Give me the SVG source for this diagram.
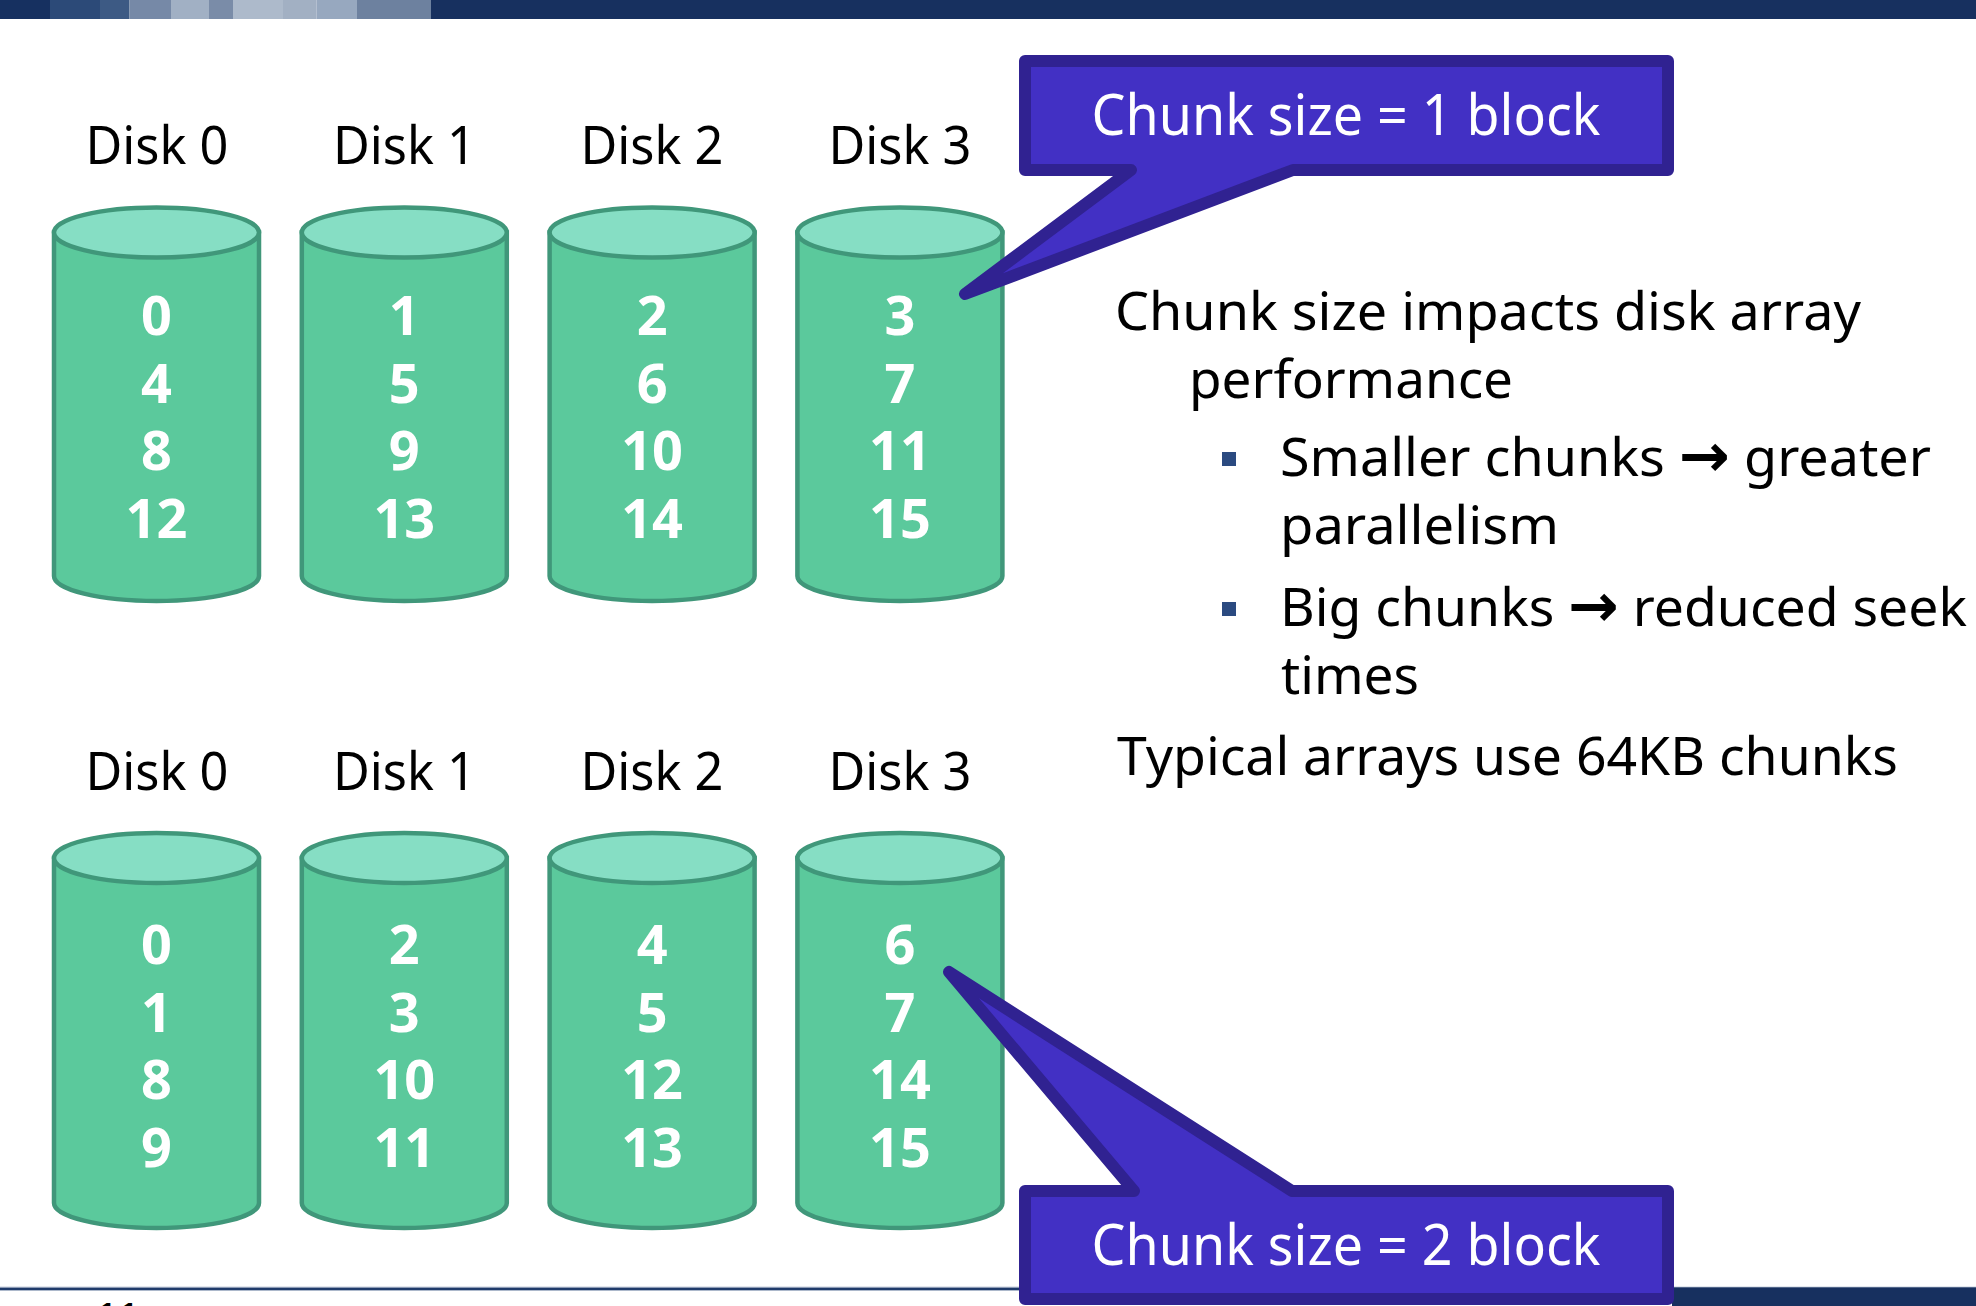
<svg xmlns="http://www.w3.org/2000/svg" width="1976" height="1306" viewBox="0 0 1976 1306">
<style>
.body{fill:#5bc99c;stroke:#40977a;stroke-width:4.5}
.cap{fill:#86dec4;stroke:#40977a;stroke-width:4.5}
.num{font-family:"Open Sans","Noto Sans","Liberation Sans",sans-serif;font-weight:bold;font-size:54px;fill:#ffffff;text-anchor:middle}
.lbl{font-family:"Noto Sans","Open Sans","DejaVu Sans",sans-serif;font-size:53px;fill:#000000;text-anchor:middle}
.txt{font-family:"Noto Sans","Open Sans","DejaVu Sans",sans-serif;font-size:53px;fill:#000000}
.arr{font-family:"DejaVu Sans",sans-serif;font-size:60px;font-weight:bold}
.co{fill:#4230c4;stroke:#302291;stroke-width:12;stroke-linejoin:round}
.cot{font-family:"Noto Sans","Open Sans","DejaVu Sans",sans-serif;font-size:56px;fill:#ffffff;text-anchor:middle}
.bul{fill:#2b4a80}
</style>
<rect x="0" y="0" width="1976" height="1306" fill="#ffffff"/>
<g id="header-bar">
<rect x="0" y="0" width="50" height="19" fill="#163060"/>
<rect x="50" y="0" width="50" height="19" fill="#2c4a78"/>
<rect x="100" y="0" width="29.5" height="19" fill="#3d5a84"/>
<rect x="129.5" y="0" width="41.5" height="19" fill="#7689a7"/>
<rect x="171" y="0" width="38" height="19" fill="#a1b0c4"/>
<rect x="209" y="0" width="24" height="19" fill="#7a8ca8"/>
<rect x="233" y="0" width="50" height="19" fill="#adbacb"/>
<rect x="283" y="0" width="33.5" height="19" fill="#a2b0c3"/>
<rect x="316.5" y="0" width="40.5" height="19" fill="#97a8bf"/>
<rect x="357" y="0" width="74" height="19" fill="#6d819f"/>
<rect x="431" y="0" width="1545" height="19" fill="#17305f"/>
</g>
<g id="footer-bar">
<rect x="0" y="1286.7" width="1976" height="1" fill="#a3b1c6"/>
<rect x="0" y="1287.7" width="1976" height="2.5" fill="#1f3b6b"/>
<rect x="0" y="1290.2" width="1976" height="0.8" fill="#a3b1c6"/>
<rect x="1672" y="1287.5" width="304" height="18.5" fill="#17305f"/>
<text x="95" y="1334" font-family="Liberation Sans, sans-serif" font-size="45" fill="#000000">11</text>
</g>
<g id="connectors"></g>
<!-- top row -->
<g id="label-top-disk0"><text class="lbl" x="157" y="164" textLength="143" lengthAdjust="spacingAndGlyphs">Disk 0</text></g>
<g id="label-top-disk1"><text class="lbl" x="404.5" y="164" textLength="143" lengthAdjust="spacingAndGlyphs">Disk 1</text></g>
<g id="label-top-disk2"><text class="lbl" x="652" y="164" textLength="143" lengthAdjust="spacingAndGlyphs">Disk 2</text></g>
<g id="label-top-disk3"><text class="lbl" x="900" y="164" textLength="143" lengthAdjust="spacingAndGlyphs">Disk 3</text></g>
<g id="top-disk0">
<path class="body" d="M54,232.5 V576 A102.5,25 0 0 0 259,576 V232.5 Z"/>
<ellipse class="cap" cx="156.5" cy="232.5" rx="102.5" ry="25"/>
<text class="num" x="156.5" y="335">0</text><text class="num" x="156.5" y="403">4</text><text class="num" x="156.5" y="470">8</text><text class="num" x="156.5" y="538">12</text>
</g>
<g id="top-disk1">
<path class="body" d="M301.8,232.5 V576 A102.5,25 0 0 0 506.8,576 V232.5 Z"/>
<ellipse class="cap" cx="404.3" cy="232.5" rx="102.5" ry="25"/>
<text class="num" x="404.3" y="335">1</text><text class="num" x="404.3" y="403">5</text><text class="num" x="404.3" y="470">9</text><text class="num" x="404.3" y="538">13</text>
</g>
<g id="top-disk2">
<path class="body" d="M549.6,232.5 V576 A102.5,25 0 0 0 754.6,576 V232.5 Z"/>
<ellipse class="cap" cx="652.1" cy="232.5" rx="102.5" ry="25"/>
<text class="num" x="652.1" y="335">2</text><text class="num" x="652.1" y="403">6</text><text class="num" x="652.1" y="470">10</text><text class="num" x="652.1" y="538">14</text>
</g>
<g id="top-disk3">
<path class="body" d="M797.4,232.5 V576 A102.5,25 0 0 0 1002.4,576 V232.5 Z"/>
<ellipse class="cap" cx="899.9" cy="232.5" rx="102.5" ry="25"/>
<text class="num" x="899.9" y="335">3</text><text class="num" x="899.9" y="403">7</text><text class="num" x="899.9" y="470">11</text><text class="num" x="899.9" y="538">15</text>
</g>
<!-- bottom row -->
<g id="label-bottom-disk0"><text class="lbl" x="157" y="790" textLength="143" lengthAdjust="spacingAndGlyphs">Disk 0</text></g>
<g id="label-bottom-disk1"><text class="lbl" x="404.5" y="790" textLength="143" lengthAdjust="spacingAndGlyphs">Disk 1</text></g>
<g id="label-bottom-disk2"><text class="lbl" x="652" y="790" textLength="143" lengthAdjust="spacingAndGlyphs">Disk 2</text></g>
<g id="label-bottom-disk3"><text class="lbl" x="900" y="790" textLength="143" lengthAdjust="spacingAndGlyphs">Disk 3</text></g>
<g id="bottom-disk0">
<path class="body" d="M54,858 V1203 A102.5,25 0 0 0 259,1203 V858 Z"/>
<ellipse class="cap" cx="156.5" cy="858" rx="102.5" ry="25"/>
<text class="num" x="156.5" y="964">0</text><text class="num" x="156.5" y="1032">1</text><text class="num" x="156.5" y="1099">8</text><text class="num" x="156.5" y="1167">9</text>
</g>
<g id="bottom-disk1">
<path class="body" d="M301.8,858 V1203 A102.5,25 0 0 0 506.8,1203 V858 Z"/>
<ellipse class="cap" cx="404.3" cy="858" rx="102.5" ry="25"/>
<text class="num" x="404.3" y="964">2</text><text class="num" x="404.3" y="1032">3</text><text class="num" x="404.3" y="1099">10</text><text class="num" x="404.3" y="1167">11</text>
</g>
<g id="bottom-disk2">
<path class="body" d="M549.6,858 V1203 A102.5,25 0 0 0 754.6,1203 V858 Z"/>
<ellipse class="cap" cx="652.1" cy="858" rx="102.5" ry="25"/>
<text class="num" x="652.1" y="964">4</text><text class="num" x="652.1" y="1032">5</text><text class="num" x="652.1" y="1099">12</text><text class="num" x="652.1" y="1167">13</text>
</g>
<g id="bottom-disk3">
<path class="body" d="M797.4,858 V1203 A102.5,25 0 0 0 1002.4,1203 V858 Z"/>
<ellipse class="cap" cx="899.9" cy="858" rx="102.5" ry="25"/>
<text class="num" x="899.9" y="964">6</text><text class="num" x="899.9" y="1032">7</text><text class="num" x="899.9" y="1099">14</text><text class="num" x="899.9" y="1167">15</text>
</g>
<!-- text block -->
<g id="notes">
<text class="txt" x="1115" y="330" textLength="746" lengthAdjust="spacingAndGlyphs">Chunk size impacts disk array</text>
<text class="txt" x="1189" y="398" textLength="324" lengthAdjust="spacingAndGlyphs">performance</text>
<rect class="bul" x="1222" y="452" width="14" height="14"/>
<text class="txt" x="1280" y="476" textLength="651" lengthAdjust="spacingAndGlyphs">Smaller chunks <tspan class="arr">→</tspan> greater</text>
<text class="txt" x="1280" y="544" textLength="279" lengthAdjust="spacingAndGlyphs">parallelism</text>
<rect class="bul" x="1222" y="602" width="14" height="14"/>
<text class="txt" x="1280" y="626" textLength="687" lengthAdjust="spacingAndGlyphs">Big chunks <tspan class="arr">→</tspan> reduced seek</text>
<text class="txt" x="1281" y="694" textLength="138" lengthAdjust="spacingAndGlyphs">times</text>
<text class="txt" x="1117" y="775" textLength="781" lengthAdjust="spacingAndGlyphs">Typical arrays use 64KB chunks</text>
</g>
<!-- callouts -->
<g id="callout-1block">
<path class="co" d="M1025,61 H1668 V170 H1293 L965,294 L1131,170 H1025 Z"/>
<text class="cot" x="1346" y="135" textLength="509" lengthAdjust="spacingAndGlyphs">Chunk size = 1 block</text>
</g>
<g id="callout-2block">
<path class="co" d="M1025,1191 H1134 L949,972 L1292,1191 H1668 V1299 H1025 Z"/>
<text class="cot" x="1346" y="1265" textLength="509" lengthAdjust="spacingAndGlyphs">Chunk size = 2 block</text>
</g>
</svg>
